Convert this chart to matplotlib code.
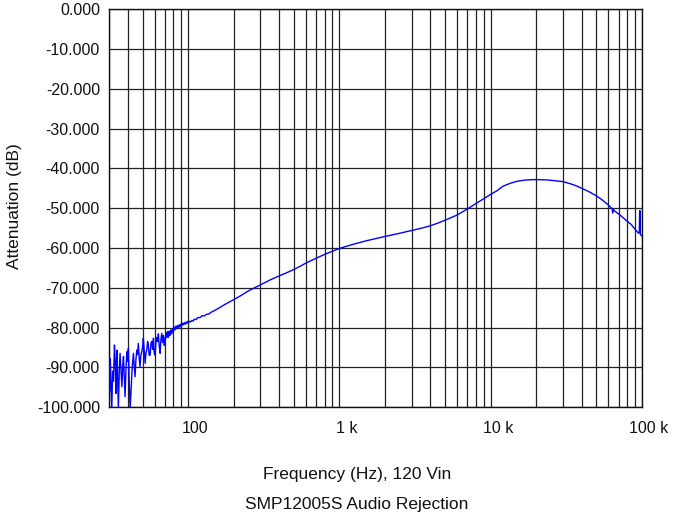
import matplotlib
matplotlib.use("Agg")
import matplotlib.pyplot as plt
import matplotlib.transforms as mtransforms
from matplotlib.ticker import FixedLocator, NullFormatter

plt.rcParams["font.family"] = ["Liberation Sans", "DejaVu Sans"]

# ---- data (frequency in Hz, attenuation in dB) ----
freq_low = [30.0, 30.3, 30.6, 30.9, 31.3, 31.7, 32.1, 32.6, 33.0, 33.3,
            33.8, 34.2, 34.6, 35.1, 35.5, 36.0, 36.5, 37.0, 37.4, 37.9,
            38.3, 38.9, 39.4, 39.9, 40.3, 40.8, 41.4, 42.0, 42.7, 43.5,
            44.0, 44.6, 45.2, 45.8, 46.3, 46.9, 47.5, 48.1, 48.7, 49.4,
            50.0, 50.6, 51.3, 52.0, 52.6, 53.3, 54.0, 54.6, 55.3, 56.1,
            56.8, 57.6, 58.3, 59.0, 59.7, 60.5, 61.2, 62.0, 62.8, 63.6,
            64.4, 65.3, 66.1, 67.0, 67.8, 68.7, 69.6, 70.5, 71.4, 72.3,
            73.2, 74.2, 75.1, 76.0, 77.0, 78.0, 79.0, 80.0, 81.0, 82.0,
            83.1, 84.2, 85.3, 86.4, 87.5, 88.5, 89.7, 90.8, 92.0, 93.2,
            94.4, 95.6, 96.8, 98.0, 99.3, 100.5, 102, 104, 106, 108,
            110, 113, 116, 120, 124, 128, 132, 137]
db_low = [-88.5, -96.0, -87.8, -94.0, -100.5, -91.0, -93.5, -84.4, -89.0, -96.6,
          -85.7, -92.0, -100.5, -90.5, -86.5, -91.0, -94.9, -89.5, -87.3, -93.0,
          -97.4, -90.0, -86.1, -88.5, -85.2, -93.5, -100.5, -95.7, -90.0, -86.5,
          -89.5, -92.4, -88.0, -85.7, -86.8, -84.0, -87.5, -89.9, -87.0, -86.1,
          -84.8, -82.7, -86.0, -89.0, -86.5, -85.7, -83.5, -84.5, -87.0, -86.9,
          -84.0, -83.5, -85.5, -82.7, -86.3, -87.0, -84.0, -82.5, -83.5, -81.6,
          -84.5, -86.5, -83.0, -81.5, -83.8, -82.0, -84.5, -83.0, -81.3, -82.6,
          -81.0, -82.5, -80.9, -82.0, -80.6, -81.6, -80.2, -81.0, -79.9, -80.6,
          -79.6, -80.3, -79.5, -80.0, -79.3, -79.9, -79.1, -79.6, -78.9, -79.3,
          -78.8, -79.2, -78.6, -79.0, -78.5, -78.9, -78.4, -78.6, -78.2, -78.4,
          -77.9, -78.0, -77.5, -77.5, -77.0, -77.1, -76.7, -76.6]

freq_high = [143, 150, 160, 175, 185, 200, 225, 250, 275, 300,
             350, 400, 450, 500, 550, 600, 700, 800, 900, 1000,
             1200, 1500, 2000, 2500, 3000, 3500, 4000, 4500, 5000, 6000,
             7000, 8000, 9000, 10000, 11000, 12000, 13500, 15000, 17000, 19000,
             21000, 24000, 27000, 30000, 34000, 37000, 40000, 45000, 50000, 55000,
             60000, 62800, 63500, 64000, 64500, 68000, 70000, 75000, 80000, 85000,
             90000, 93000, 95000, 96000, 96500, 97000, 97500, 100000]
db_high = [-76.1, -75.7, -75.1, -74.2, -73.7, -73.0, -71.9, -70.8, -70.0, -69.3,
           -68.0, -67.0, -66.2, -65.4, -64.6, -63.8, -62.6, -61.6, -60.8, -60.1,
           -59.2, -58.2, -57.1, -56.3, -55.6, -55.0, -54.4, -53.7, -53.0, -51.7,
           -50.2, -48.8, -47.6, -46.5, -45.6, -44.5, -43.7, -43.2, -42.9, -42.8,
           -42.8, -42.9, -43.1, -43.3, -43.9, -44.4, -45.0, -45.9, -46.9, -48.0,
           -49.2, -50.0, -50.0, -51.2, -50.3, -51.1, -51.4, -52.4, -53.3, -54.1,
           -55.3, -55.9, -56.3, -56.0, -50.6, -50.6, -56.6, -57.0]

freq = freq_low + freq_high
atten = db_low + db_high

y_ticks = [0, -10, -20, -30, -40, -50, -60, -70, -80, -90, -100]
x_major = [100, 1000, 10000, 100000]
x_labels = ["100", "1 k", "10 k", "100 k"]
x_minor = ([30, 40, 50, 60, 70, 80, 90]
           + [200, 300, 400, 500, 600, 700, 800, 900]
           + [2000, 3000, 4000, 5000, 6000, 7000, 8000, 9000]
           + [20000, 30000, 40000, 50000, 60000, 70000, 80000, 90000])

fig = plt.figure(figsize=(6.74, 5.14), dpi=100)
ax = fig.add_axes([109 / 674, 1 - 407 / 514, (642 - 109) / 674, (407 - 9.5) / 514])

ax.plot(freq, atten, color="#0000ff", lw=1.0, zorder=3)

ax.set_xscale("log")
ax.set_xlim(30, 100000)
ax.set_ylim(-100, 0)

ax.xaxis.set_major_locator(FixedLocator(x_major))
ax.xaxis.set_minor_locator(FixedLocator(x_minor))
ax.xaxis.set_minor_formatter(NullFormatter())
ax.set_xticklabels(x_labels)
ax.set_yticks(y_ticks)
ax.set_yticklabels([f"{v:.3f}" for v in y_ticks])

ax.grid(True, which="both", axis="x", color="#222222", lw=0.9)
ax.grid(True, which="major", axis="y", color="#222222", lw=0.9)
ax.tick_params(which="both", length=0, labelsize=11.5, colors="#111111")
ax.tick_params(axis="x", pad=10)
ax.tick_params(axis="y", pad=6.5)
for s in ax.spines.values():
    s.set_color("#111111")
    s.set_linewidth(1.0)

shift = mtransforms.ScaledTranslation(7 / 100, 0, fig.dpi_scale_trans)
for lab in ax.get_xticklabels():
    lab.set_transform(lab.get_transform() + shift)

fig.text(357 / 674, 1 - 475 / 514, "Frequency (Hz), 120 Vin",
         ha="center", va="center", fontsize=12.5, color="#111111")
fig.text(357 / 674, 1 - 504 / 514, "SMP12005S Audio Rejection",
         ha="center", va="center", fontsize=12.5, color="#111111")
fig.text(15 / 674, 1 - 206 / 514, "Attenuation (dB)", rotation=90,
         ha="center", va="center", fontsize=12.5, color="#111111")

fig.savefig("out.png", dpi=100)
